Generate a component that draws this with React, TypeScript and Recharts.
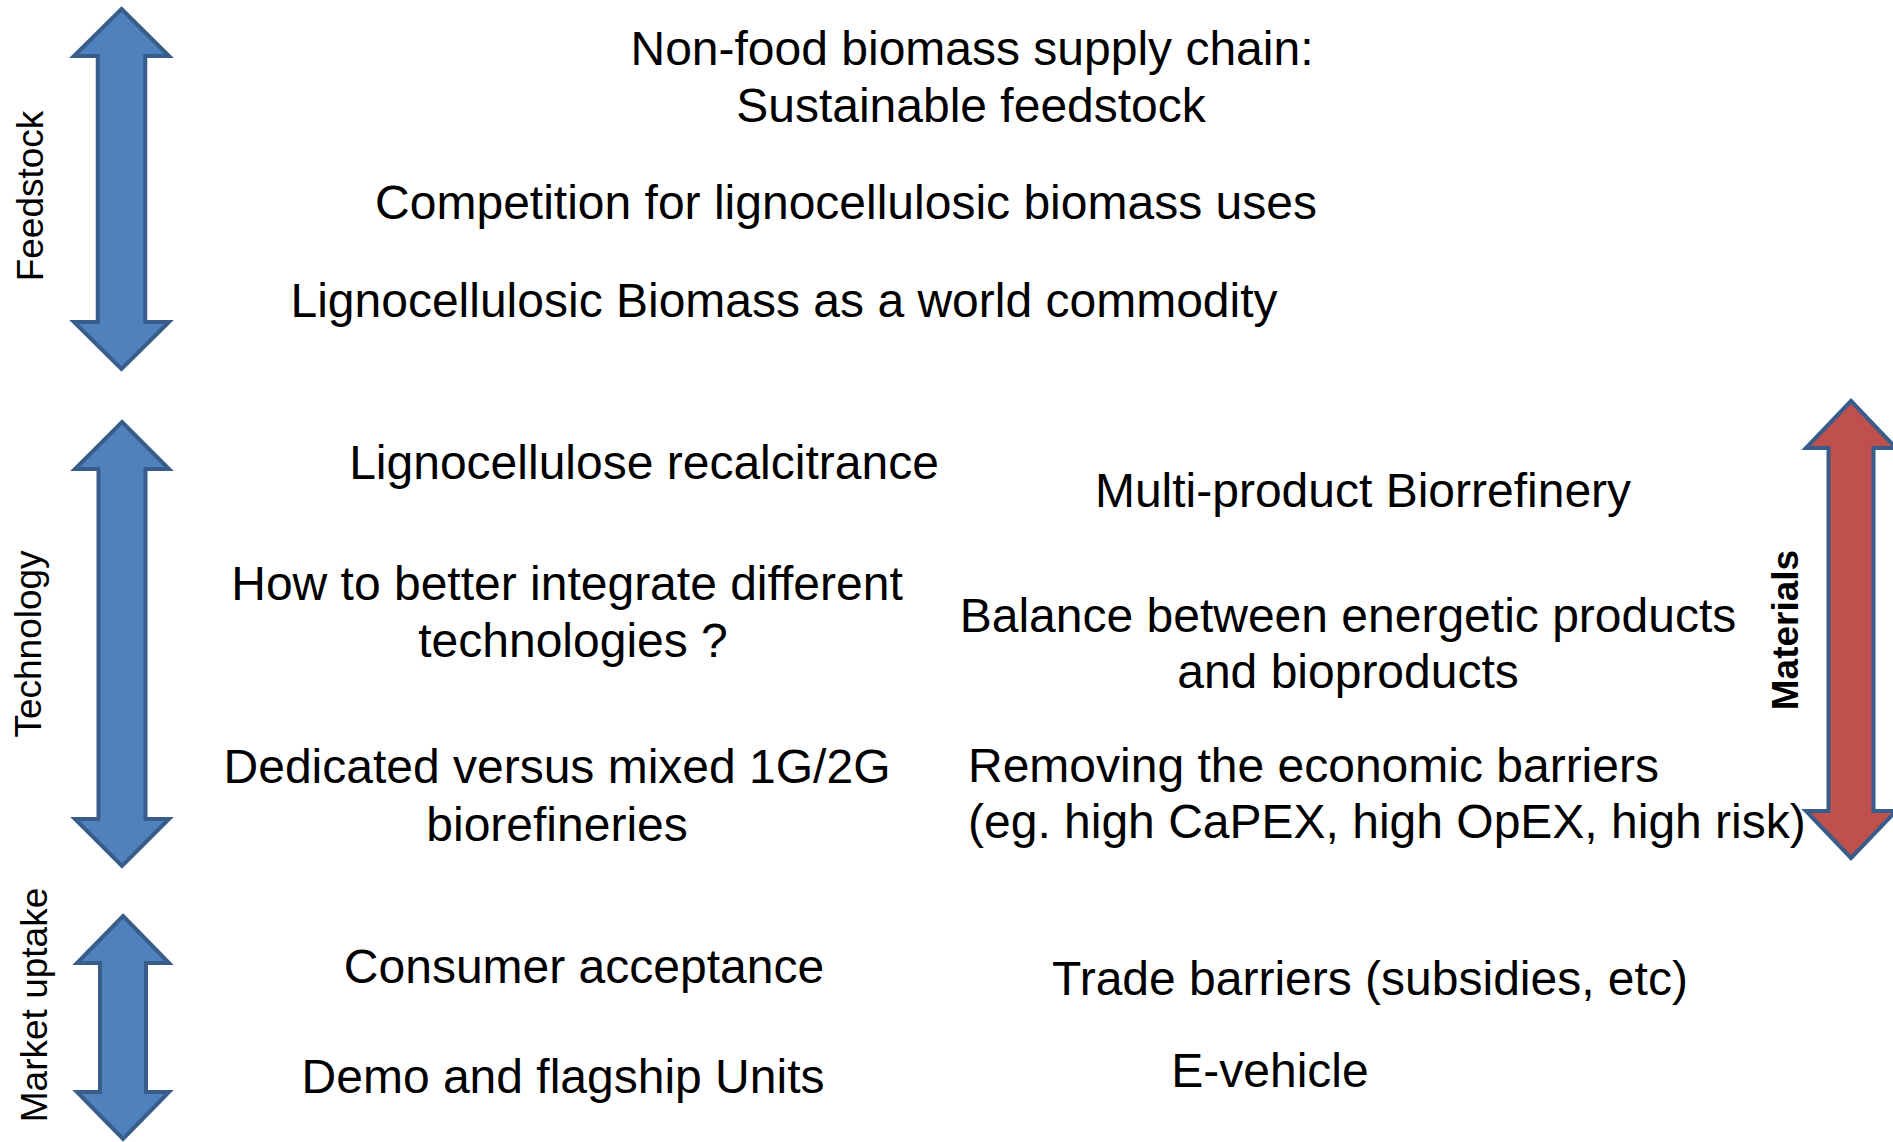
import React from "react";
import { ComposedChart, ReferenceArea, Scatter, XAxis, YAxis } from "recharts";

// Diagram canvas in its own units (same as the picture's pixels).
const CANVAS_W = 1893;
const CANVAS_H = 1142;

// Double arrows: horizontal extent and vertical extent on the canvas scale.
const arrowNames = ["Feedstock", "Technology", "Market uptake", "Materials"];
const arrowX1 = [70, 71, 73, 1802];
const arrowX2 = [173, 173, 173, 1900];
const arrowY1 = [5, 418, 912, 397];
const arrowY2 = [373, 870, 1143, 862];

// Rotated axis labels (baseline x, centre y).
const sideLabels = ["Feedstock", "Technology", "Market uptake", "Materials"];
const sideX = [43, 41, 47, 1798];
const sideY = [196, 644, 1005, 630];

// Statement lines (anchor x, baseline y).
const lines = [
  "Non-food biomass supply chain:",
  "Sustainable feedstock",
  "Competition for lignocellulosic biomass uses",
  "Lignocellulosic Biomass as a world commodity",
  "Lignocellulose recalcitrance",
  "Multi-product Biorrefinery",
  "How to better integrate different",
  "technologies ?",
  "Balance between energetic products",
  "and bioproducts",
  "Dedicated versus mixed 1G/2G",
  "biorefineries",
  "Removing the economic barriers",
  "(eg. high CaPEX, high OpEX, high risk)",
  "Consumer acceptance",
  "Trade barriers (subsidies, etc)",
  "Demo and flagship Units",
  "E-vehicle",
];
const lineX = [972, 971, 846, 784, 644, 1363, 567, 573, 1348, 1348, 557, 557, 968, 968, 584, 1370, 563, 1270];
const lineY = [65, 122, 219, 317, 479, 507, 600, 657, 632, 688, 783, 841, 782, 838, 983, 995, 1093, 1087];
const leftAligned = ["Removing the economic barriers", "(eg. high CaPEX, high OpEX, high risk)"];

const FONT = '"Liberation Sans", Arial, Helvetica, sans-serif';
const OUTLINE = "#385D8A";
const arrowFill: Record<string, string> = {
  Feedstock: "#4F81BD",
  Technology: "#4F81BD",
  "Market uptake": "#4F81BD",
  Materials: "#C0504D",
};

const textPoints = lines.map((label, i) => ({ x: lineX[i], y: lineY[i], label }));
const sidePoints = sideLabels.map((label, i) => ({ x: sideX[i], y: sideY[i], label }));

function DoubleArrow(props: any) {
  const { x, y, width: w, height: h, fill } = props;
  const inset = 4;
  const left = x + inset;
  const right = x + w - inset;
  const top = y + inset;
  const bottom = y + h - inset;
  const cx = (left + right) / 2;
  const shaft = (right - left) * 0.25;
  const head = 47;
  const pts = [
    [cx, top],
    [right, top + head],
    [cx + shaft, top + head],
    [cx + shaft, bottom - head],
    [right, bottom - head],
    [cx, bottom],
    [left, bottom - head],
    [cx - shaft, bottom - head],
    [cx - shaft, top + head],
    [left, top + head],
  ];
  return (
    <polygon
      points={pts.map((p) => p.join(",")).join(" ")}
      fill={fill}
      stroke={OUTLINE}
      strokeWidth={4}
      strokeLinejoin="miter"
    />
  );
}

function LineText(props: any) {
  const { cx, cy, payload } = props;
  const start = leftAligned.includes(payload.label);
  return (
    <text
      x={cx}
      y={cy}
      textAnchor={start ? "start" : "middle"}
      fontFamily={FONT}
      fontSize={48}
      fill="#000"
    >
      {payload.label}
    </text>
  );
}

function SideText(props: any) {
  const { cx, cy, payload } = props;
  const bold = payload.label === "Materials";
  return (
    <text
      x={cx}
      y={cy}
      transform={`rotate(-90 ${cx} ${cy})`}
      textAnchor="middle"
      fontFamily={FONT}
      fontSize={37}
      fontWeight={bold ? "bold" : "normal"}
      fill="#000"
    >
      {payload.label}
    </text>
  );
}

export default function App() {
  return (
    <div style={{ width: CANVAS_W, height: CANVAS_H, background: "#fff" }}>
      <style>{"body{margin:0;background:#fff}"}</style>
      <ComposedChart width={CANVAS_W} height={CANVAS_H} margin={{ top: 0, right: 0, bottom: 0, left: 0 }}>
        <XAxis type="number" dataKey="x" domain={[0, CANVAS_W]} hide allowDataOverflow />
        <YAxis type="number" dataKey="y" domain={[0, CANVAS_H]} reversed hide allowDataOverflow />
        {arrowNames.map((name, i) => (
          <ReferenceArea
            key={name}
            x1={arrowX1[i]}
            x2={arrowX2[i]}
            y1={arrowY1[i]}
            y2={arrowY2[i]}
            ifOverflow="visible"
            fill={arrowFill[name]}
            shape={(p: any) => <DoubleArrow {...p} fill={arrowFill[name]} />}
          />
        ))}
        <Scatter data={sidePoints} shape={SideText} isAnimationActive={false} />
        <Scatter data={textPoints} shape={LineText} isAnimationActive={false} />
      </ComposedChart>
    </div>
  );
}
